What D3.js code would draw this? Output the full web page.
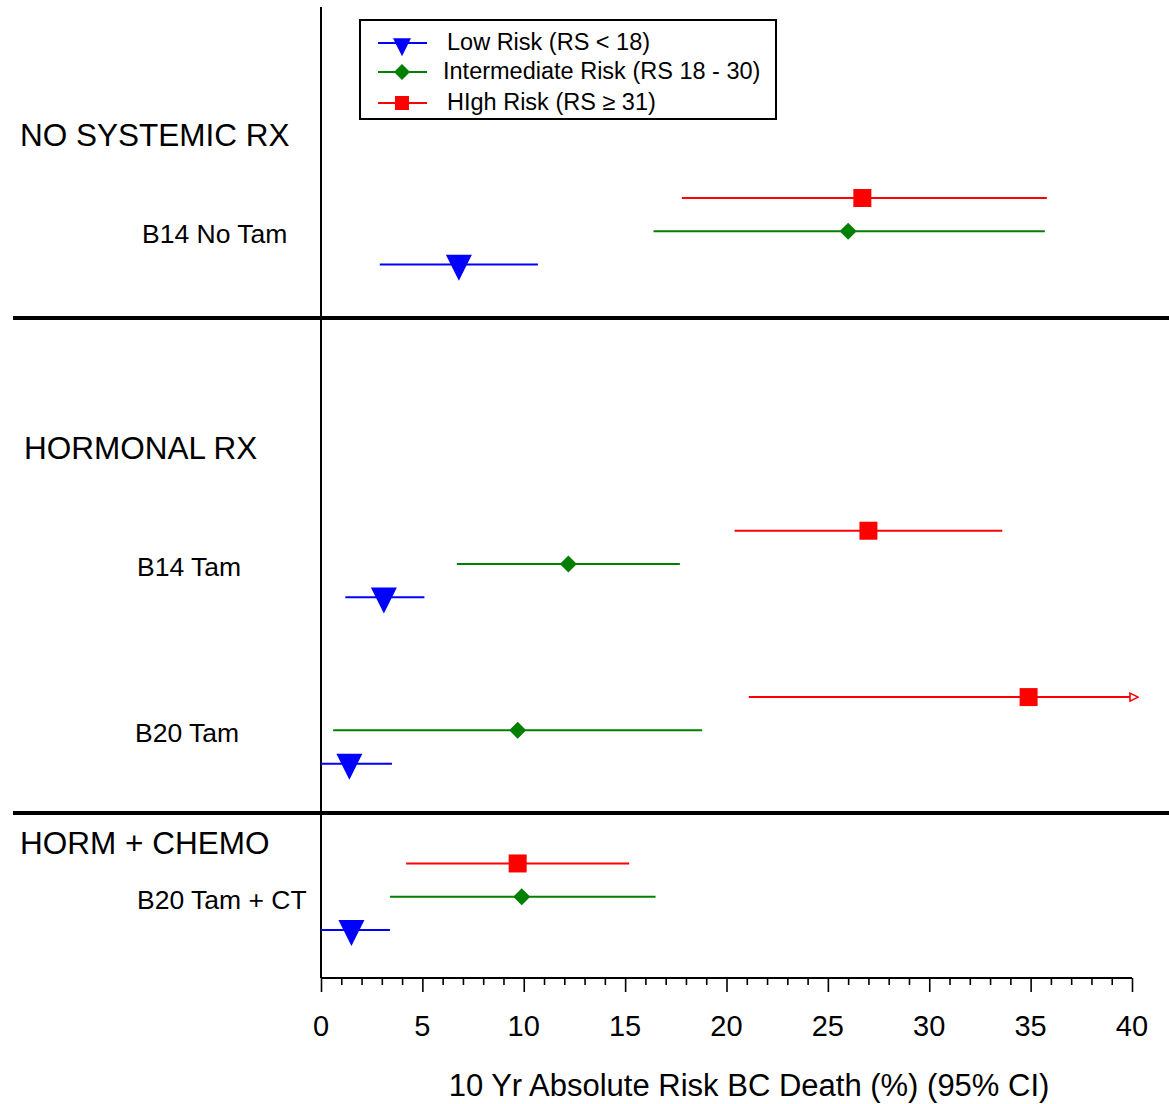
<!DOCTYPE html>
<html>
<head>
<meta charset="utf-8">
<script src="https://cdn.jsdelivr.net/npm/d3@7"></script>
<style>
  body { margin: 0; background: #fff; }
  svg { display: block; font-family: "Liberation Sans", Arial, sans-serif; }
</style>
</head>
<body>
<div id="chart"></div>
<script>
// studies, grouped by treatment
const studies = ["B14 No Tam", "B14 Tam", "B20 Tam", "B20 Tam + CT"];
const studyRows = [1, 11, 16, 21];
const groups = ["NO SYSTEMIC RX", "HORMONAL RX", "HORM + CHEMO"];
const groupRows = [-1.9, 7.5, 19.4];

// 10 yr absolute risk (%) with 95% CI, per risk level
const highEst = [26.7, 27.0, 34.9, 9.7];
const highLo  = [17.8, 20.4, 21.1, 4.2];
const highHi  = [35.8, 33.6, 40.0, 15.2];
const interEst = [26.0, 12.2, 9.7, 9.9];
const interLo  = [16.4, 6.7, 0.6, 3.4];
const interHi  = [35.7, 17.7, 18.8, 16.5];
const lowEst = [6.8, 3.1, 1.4, 1.5];
const lowLo  = [2.9, 1.2, 0.0, 0.0];
const lowHi  = [10.7, 5.1, 3.5, 3.4];

const xTicks = [0, 5, 10, 15, 20, 25, 30, 35, 40];
const legendLabels = ["Low Risk (RS < 18)", "Intermediate Risk (RS 18 - 30)", "HIgh Risk (RS \u2265 31)"];

const series = [
  {name: "low", color: "#0000ff", shape: "tri", offset: 1, est: lowEst, lo: lowLo, hi: lowHi},
  {name: "inter", color: "#008000", shape: "diamond", offset: 0, est: interEst, lo: interLo, hi: interHi},
  {name: "high", color: "#ff0000", shape: "square", offset: -1, est: highEst, lo: highLo, hi: highHi}
];

const W = 1169, H = 1104;
const svg = d3.select("#chart").append("svg")
    .attr("width", W)
    .attr("height", H);

let x = d3.scaleLinear().domain([0, 40]).range([321, 1132]);
let y = d3.scaleLinear().domain([0, 22]).range([198, 930]);
const axisY = 978;

svg.append("defs").append("marker")
    .attr("id", "arrow")
    .attr("viewBox", "0 0 10 10")
    .attr("refX", 1).attr("refY", 5)
    .attr("markerWidth", 10).attr("markerHeight", 10)
    .attr("markerUnits", "userSpaceOnUse")
    .attr("orient", "auto")
    .append("path")
    .attr("d", "M1,1 L9,5 L1,9 Z")
    .attr("fill", "#fff")
    .attr("stroke", "#ff0000")
    .attr("stroke-width", 1.6);

function shapePath(shape, s) {
  if (shape === "tri") return `M${-s/2},${-s*0.38} L${s/2},${-s*0.38} L0,${s*0.62} Z`;
  if (shape === "diamond") { let h = s/2; return `M0,${-h} L${h},0 L0,${h} L${-h},0 Z`; }
  let h = s/2; return `M${-h},${-h} L${h},${-h} L${h},${h} L${-h},${h} Z`;
}
const bigSize = {tri: 26, diamond: 17, square: 18};
const smallSize = {tri: 18, diamond: 16, square: 14};

// frame lines
svg.append("line")
    .attr("x1", x(0)).attr("x2", x(0))
    .attr("y1", 7).attr("y2", axisY)
    .attr("stroke", "#000").attr("stroke-width", 2);

[318, 813].forEach(function(yy) {
  svg.append("line")
      .attr("x1", 13).attr("x2", W)
      .attr("y1", yy).attr("y2", yy)
      .attr("stroke", "#000").attr("stroke-width", 4);
});

// x axis
let xAxis = d3.axisBottom(x)
    .tickValues(d3.range(0, 41, 1))
    .tickSize(7)
    .tickFormat("");
let xAxis_g = svg.append("g")
    .attr("class", "x axis")
    .attr("transform", "translate(0," + axisY + ")")
    .call(xAxis);
xAxis_g.select(".domain").attr("d", "M" + x(0) + ",0H" + x(40)).attr("stroke-width", 2);
xAxis_g.selectAll(".tick line").attr("stroke-width", 1.6)
    .attr("y2", function(d) { return d % 5 === 0 ? 14 : 7; });

svg.append("g").selectAll("text")
    .data(xTicks)
    .enter().append("text")
    .attr("x", function(d) { return x(d); })
    .attr("y", 1036)
    .attr("text-anchor", "middle")
    .style("font-size", "29px")
    .text(function(d) { return d; });

svg.append("text")
    .attr("x", 749)
    .attr("y", 1096)
    .attr("text-anchor", "middle")
    .style("font-size", "31px")
    .text("10 Yr Absolute Risk BC Death (%) (95% CI)");

// group and study labels
svg.append("g").selectAll("text")
    .data(groups)
    .enter().append("text")
    .attr("x", function(d, i) { return i === 1 ? 24 : 20; })
    .attr("y", function(d, i) { return y(groupRows[i]) + 11; })
    .style("font-size", "31.5px")
    .text(function(d) { return d; });

svg.append("g").selectAll("text")
    .data(studies)
    .enter().append("text")
    .attr("x", function(d, i) { return [142, 137, 135, 137][i]; })
    .attr("y", function(d, i) { return y(studyRows[i]) + 12; })
    .style("font-size", "26.5px")
    .text(function(d) { return d; });

// CI bars and point estimates
series.forEach(function(s) {
  let g = svg.append("g").attr("class", "series " + s.name);
  let rows = studies.map(function(st, i) {
    return {row: studyRows[i] + s.offset, est: s.est[i], lo: s.lo[i], hi: s.hi[i], capped: s.hi[i] >= 40};
  });
  g.selectAll("line")
      .data(rows)
      .enter().append("line")
      .attr("x1", function(d) { return x(d.lo); })
      .attr("x2", function(d) { return x(d.hi) - (d.capped ? 2 : 0); })
      .attr("y1", function(d) { return y(d.row); })
      .attr("y2", function(d) { return y(d.row); })
      .attr("stroke", s.color)
      .attr("stroke-width", 2)
      .attr("marker-end", function(d) { return d.capped ? "url(#arrow)" : null; });
  g.selectAll("path")
      .data(rows)
      .enter().append("path")
      .attr("transform", function(d) { return "translate(" + x(d.est) + "," + y(d.row) + ")"; })
      .attr("d", shapePath(s.shape, bigSize[s.shape]))
      .attr("fill", s.color);
});

// legend
let legend = svg.append("g").attr("class", "legend");
legend.append("rect")
    .attr("x", 360).attr("y", 20)
    .attr("width", 416).attr("height", 99)
    .attr("fill", "#fff")
    .attr("stroke", "#000")
    .attr("stroke-width", 2);
let legendY = [43, 72, 103];
let legendX = [447, 443, 447];
let legendSeries = [series[0], series[1], series[2]];
legendSeries.forEach(function(s, i) {
  legend.append("line")
      .attr("x1", 378).attr("x2", 427)
      .attr("y1", legendY[i]).attr("y2", legendY[i])
      .attr("stroke", s.color).attr("stroke-width", 2);
  legend.append("path")
      .attr("transform", "translate(402," + (legendY[i] + (s.shape === "tri" ? 2 : 0)) + ")")
      .attr("d", shapePath(s.shape, smallSize[s.shape]))
      .attr("fill", s.color);
  legend.append("text")
      .attr("x", legendX[i])
      .attr("y", legendY[i] + 7)
      .style("font-size", "23.5px")
      .text(legendLabels[i]);
});
</script>
</body>
</html>
